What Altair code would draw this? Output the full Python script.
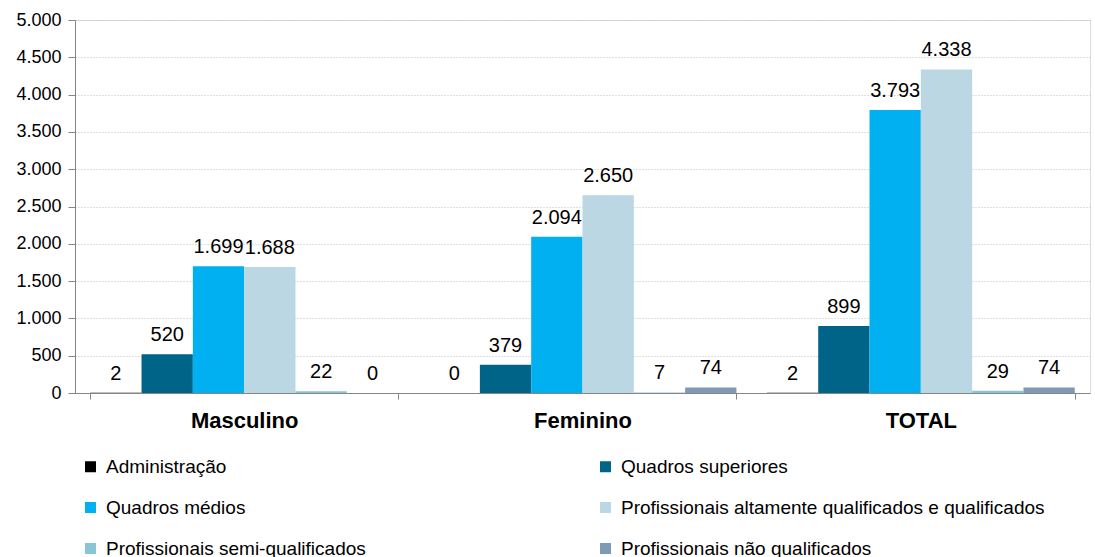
import altair as alt
import pandas as pd

groups = ["Masculino", "Feminino", "TOTAL"]
series = [
    "Administração",
    "Quadros superiores",
    "Quadros médios",
    "Profissionais altamente qualificados e qualificados",
    "Profissionais semi-qualificados",
    "Profissionais não qualificados",
]
colors = ["#000000", "#006489", "#00B0F0", "#BAD7E3", "#88C5D7", "#7F9AB5"]
masculino = [2, 520, 1699, 1688, 22, 0]
feminino = [0, 379, 2094, 2650, 7, 74]
total = [2, 899, 3793, 4338, 29, 74]
y_ticks = list(range(0, 5001, 500))

rows = []
for g, vals in zip(groups, [masculino, feminino, total]):
    for s, v in zip(series, vals):
        rows.append({"group": g, "series": s, "value": v,
                     "label": f"{v:,}".replace(",", ".")})
df = pd.DataFrame(rows)

# legend is laid out column by column: reorder so it reads row by row
legend_order = [0, 2, 4, 1, 3, 5]
legend_domain = [series[i] for i in legend_order]
legend_range = [colors[i] for i in legend_order]

base = alt.Chart(df).encode(
    x=alt.X("group:N", sort=groups,
            scale=alt.Scale(paddingInner=0.09, paddingOuter=0.045),
            axis=alt.Axis(title=None, labelFontWeight="bold", labelFontSize=22,
                          labelColor="#000000", domainColor="#868686",
                          tickColor="#868686", tickBand="extent", tickSize=6,
                          labelPadding=11, grid=False, labelAngle=0)),
    xOffset=alt.XOffset("series:N", sort=series,
                        scale=alt.Scale(domain=series, paddingInner=0, paddingOuter=0)),
    y=alt.Y("value:Q", scale=alt.Scale(domain=[0, 5000], nice=False),
            axis=alt.Axis(title=None, values=y_ticks,
                          labelExpr="replace(format(datum.value, ','), ',', '.')",
                          labelFontSize=18, labelColor="#000000",
                          domainColor="#868686", tickColor="#868686",
                          tickSize=7, labelPadding=7,
                          gridColor="#BFBFBF", gridDash=[1, 2])),
)

bars = base.mark_bar().encode(
    color=alt.Color("series:N",
                    scale=alt.Scale(domain=legend_domain, range=legend_range),
                    legend=alt.Legend(title=None, orient="none", legendX=6, legendY=437,
                                      padding=0,
                                      columns=2, columnPadding=230, rowPadding=21,
                                      labelFontSize=19, labelColor="#000000",
                                      symbolType="square", symbolSize=121,
                                      symbolStrokeWidth=0, labelLimit=700,
                                      labelOffset=6)),
)

text = base.mark_text(baseline="bottom", dy=-9, fontSize=20, color="#000000").encode(
    text="label:N"
)

chart = alt.layer(bars, text).properties(
    width=1015, height=373,
    autosize=alt.AutoSizeParams(type="none"),
    padding={"left": 75, "top": 20, "right": 5, "bottom": 164},
).configure_view(stroke=None).configure(font="Liberation Sans")

chart.save("out.html", embed_options={"renderer": "svg", "actions": False})
